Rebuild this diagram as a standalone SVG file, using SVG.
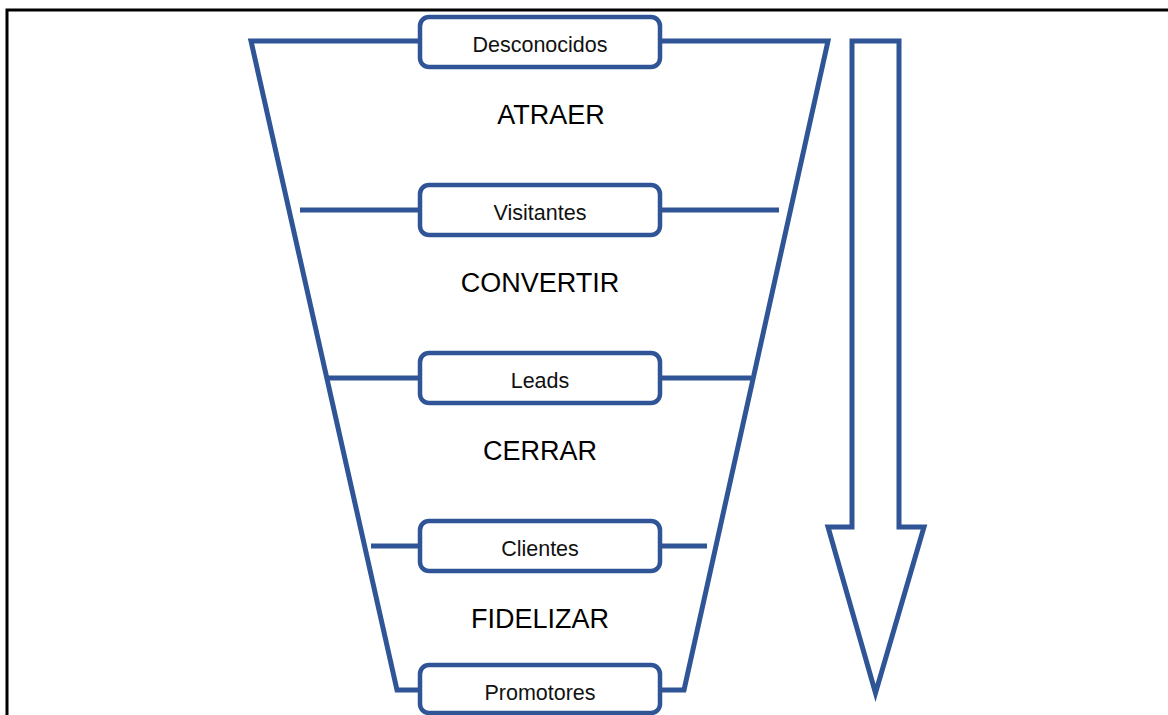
<svg xmlns="http://www.w3.org/2000/svg" width="1168" height="715" viewBox="0 0 1168 715">
  <style>
    .frame { fill: none; stroke: #000; stroke-width: 3; }
    .line { fill: none; stroke: #2F5597; stroke-width: 5; stroke-linejoin: miter; }
    .box { fill: #fff; stroke: #2F5597; stroke-width: 4.5; }
    .stage { font-family: "Liberation Sans", Arial, sans-serif; font-size: 27px; fill: #000; text-anchor: middle; }
    .label { font-family: "Liberation Sans", Arial, sans-serif; font-size: 21.5px; fill: #111; text-anchor: middle; }
  </style>
  <rect width="1168" height="715" fill="#fff"/>
  <path class="frame" d="M7,715 V10 H1168"/>

  <!-- funnel outline and level lines -->
  <g id="connectors">
    <path class="line" d="M420,41 H251 L397,690 H420"/>
    <path class="line" d="M660,41 H828 L684,690 H660"/>
    <path class="line" d="M300,210 H420 M660,210 H779"/>
    <path class="line" d="M328,378 H420 M660,378 H751"/>
    <path class="line" d="M371,546 H420 M660,546 H707"/>
  </g>

  <!-- downward arrow -->
  <g id="arrow">
    <path class="line" d="M852,41 H899 V527 H924 L875.5,693 L828,527 H852 Z"/>
  </g>

  <g id="desconocidos">
    <rect class="box" x="420" y="17" width="240" height="50" rx="9"/>
    <text class="label" x="540" y="51.5">Desconocidos</text>
  </g>
  <g id="visitantes">
    <rect class="box" x="420" y="185" width="240" height="50" rx="9"/>
    <text class="label" x="540" y="219.5">Visitantes</text>
  </g>
  <g id="leads">
    <rect class="box" x="420" y="353" width="240" height="50" rx="9"/>
    <text class="label" x="540" y="387.5">Leads</text>
  </g>
  <g id="clientes">
    <rect class="box" x="420" y="521" width="240" height="50" rx="9"/>
    <text class="label" x="540" y="555.5">Clientes</text>
  </g>
  <g id="promotores">
    <rect class="box" x="420" y="665" width="240" height="48" rx="9"/>
    <text class="label" x="540" y="699.5">Promotores</text>
  </g>

  <g id="stages">
    <text class="stage" x="551" y="123.5">ATRAER</text>
    <text class="stage" x="540" y="291.5">CONVERTIR</text>
    <text class="stage" x="540" y="459.5">CERRAR</text>
    <text class="stage" x="540" y="627.5">FIDELIZAR</text>
  </g>
</svg>
